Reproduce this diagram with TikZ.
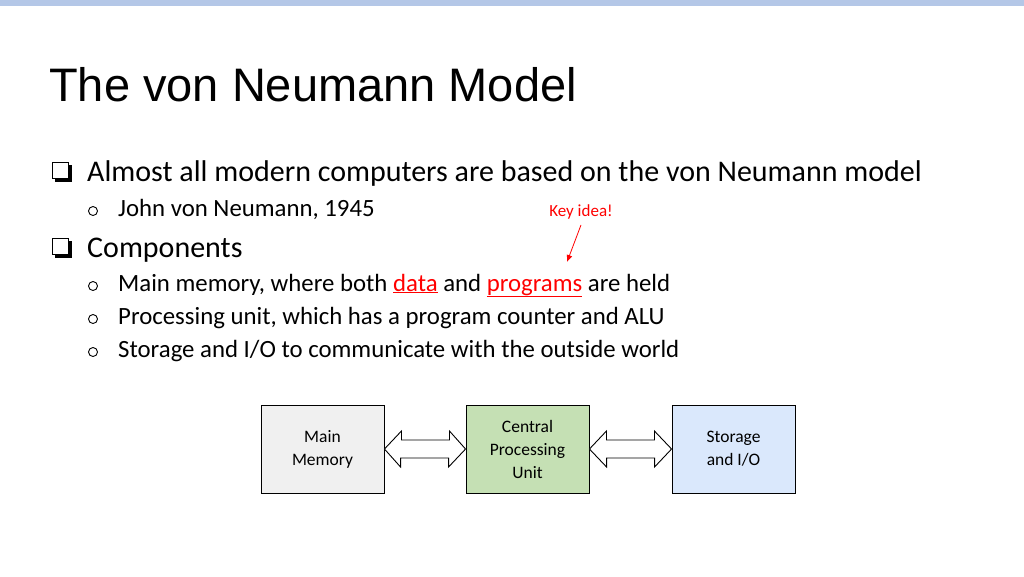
\documentclass[tikz,border=0pt]{standalone}
\usepackage{fontspec}
\usetikzlibrary{arrows.meta}
\setmainfont{Carlito}
\newfontfamily\arialf{Liberation Sans}
\definecolor{topbar}{RGB}{180,199,231}
\definecolor{mmfill}{RGB}{240,240,240}
\definecolor{cpufill}{RGB}{197,224,180}
\definecolor{iofill}{RGB}{218,232,252}
\begin{document}
\begin{tikzpicture}[x=1pt,y=-1pt,
  box/.style={draw,line width=0.9pt,minimum width=123pt,minimum height=88pt,align=center,font=\fontsize{17.5}{23}\selectfont},
  lone/.style={anchor=base west,font=\fontsize{30}{33}\selectfont,inner sep=0},
  ltwo/.style={anchor=base west,font=\fontsize{24.8}{27}\selectfont,inner sep=0}]
\useasboundingbox (0,0) rectangle (1024,576);
\fill[topbar] (0,0) rectangle (1024,6);
\node[anchor=base west,inner sep=0,font=\arialf\fontsize{47}{50}\selectfont] (title) at (49,101) {The von Neumann Model};
% checkbox bullets
\foreach \y/\n in {162/b1,238/b2}{
  \fill (55,\y+3) rectangle (72,\y+20);
  \draw[fill=white,line width=1pt] (52,\y) rectangle (68,\y+16);
}
\node[lone] (l1) at (87,181) {Almost all modern computers are based on the von Neumann model};
\node[lone] (l2) at (87,257) {Components};
\foreach \y/\n/\t in {209/s1/{John von Neumann, 1945},
  284/s2/{Main memory, where both \textcolor{red}{\underline{data}} and \textcolor{red}{\underline{programs}} are held},
  317/s3/{Processing unit, which has a program counter and ALU},
  350/s4/{Storage and I/O to communicate with the outside world}}{
  \draw[line width=0.9pt] (93,\y+2) circle (4.5);
  \node[ltwo] (\n) at (118,\y+7) {\t};
}
\node[anchor=base,font=\fontsize{17}{20}\selectfont,text=red,inner sep=0] (key) at (581,216) {Key idea!};
\coordinate (kt) at (567,262);
\draw[red,line width=0.8pt,-{Latex[length=7pt,width=6pt]}] ([yshift=-6pt]key.south) -- (kt);
\node[box,fill=mmfill] (mm) at (322.5,449) {Main\\Memory};
\node[box,fill=cpufill] (cpu) at (527.5,449) {Central\\Processing\\Unit};
\node[box,fill=iofill] (io) at (733.5,449) {Storage\\and I/O};
\foreach \a/\b in {mm/cpu,cpu/io}{
  \draw[fill=white,line width=0.9pt,line join=miter] (\a.east) -- ++(17,-18) -- ++(0,9) -- ++(48,0) -- ++(0,-9) -- (\b.west) -- ++(-17,18) -- ++(0,-9) -- ++(-48,0) -- ++(0,9) -- cycle;
}
\end{tikzpicture}
\end{document}
